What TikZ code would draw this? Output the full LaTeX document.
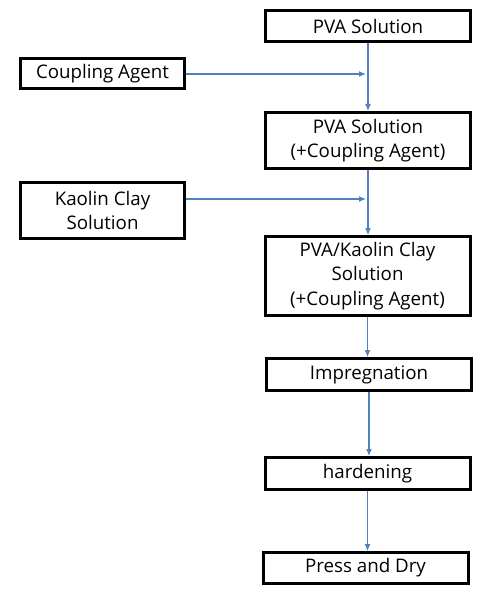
\documentclass[tikz,border=0pt]{standalone}
\usepackage{fontspec}
\setmainfont{Open Sans}
\usepackage{tikz}
\usetikzlibrary{arrows.meta}
\definecolor{arrowblue}{RGB}{79,129,189}

\begin{document}
\begin{tikzpicture}
		[
			x=1bp, y=-1bp,
			box/.style = {rectangle, align=center, draw=black, fill=none, line width=3bp, inner sep=1.5bp, minimum width=205bp, font=\fontsize{18.8}{24.5}\selectfont},
			sbox/.style = {box, minimum width=164bp},
			link/.style = {draw=arrowblue, line width=1.1bp, -{Latex[length=7bp,width=6bp]}},
		]

		\useasboundingbox (0,0) rectangle (480,595);

		% process steps
		\node[box, minimum height=31bp] (pva) 	at ( 368.0,  26.0 ) {PVA Solution};
		\node[box, minimum height=56bp] (pvaca) 	at ( 368.0, 140.5 ) {PVA Solution\\(+Coupling Agent)};
		\node[box, minimum height=79bp] (mix) 	at ( 367.5, 276.0 ) {PVA/Kaolin Clay\\Solution\\(+Coupling Agent)};
		\node[box, minimum height=32bp] (imp) 	at ( 369.0, 374.5 ) {Impregnation};
		\node[box, minimum height=32bp] (hard) 	at ( 367.5, 473.5 ) {hardening};
		\node[box, minimum height=31bp] (press) 	at ( 365.5, 568.0 ) {Press and Dry};

		% additives
		\node[sbox, minimum height=30bp] (cpl) 	at ( 102.5,  73.5 ) {Coupling Agent};
		\node[sbox, minimum height=56bp] (kao) 	at ( 102.5, 210.5 ) {Kaolin Clay\\Solution};

		\coordinate (j1) at ( 366.0,  74.0 );
		\coordinate (j2) at ( 366.0, 199.0 );

		\foreach \from/\to in {pva/pvaca,pvaca/mix,mix/imp,imp/hard,hard/press}
		\draw[link] (\from.south) -- (\from.south |- \to.north);

		\foreach \from/\to in {cpl/j1,kao/j2}
		\draw[link] (\from.east |- \to) -- (\to);

		\end{tikzpicture}
\end{document}
